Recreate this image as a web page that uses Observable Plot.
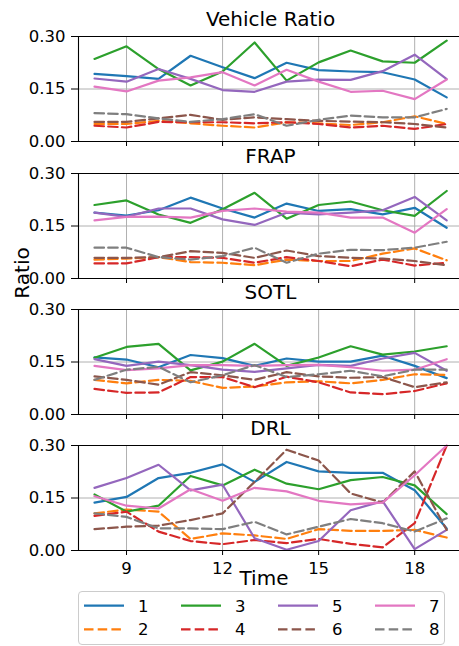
<!DOCTYPE html>
<html><head><meta charset="utf-8">
<script src="https://cdn.jsdelivr.net/npm/d3@7"></script>
<script src="https://cdn.jsdelivr.net/npm/@observablehq/plot@0.6"></script>
<style>
body{margin:0;overflow:hidden;background:#fff;font-family:"DejaVu Sans",sans-serif;}
#wrap{position:relative;width:459px;height:646px;overflow:hidden;}
</style>
</head><body><div id="wrap"></div>
<script>
const times = [8, 9, 10, 11, 12, 13, 14, 15, 16, 17, 18, 19];
const seriesLabels = ["1", "2", "3", "4", "5", "6", "7", "8"];
const seriesColors = ["#1f77b4", "#ff7f0e", "#2ca02c", "#d62728", "#9467bd", "#8c564b", "#e377c2", "#7f7f7f"];
const seriesDashed = [false, true, false, true, false, true, false, true];
const panelTitles = ["Vehicle Ratio", "FRAP", "SOTL", "DRL"];
const xTicks = [9, 12, 15, 18];
const yTicks = [0, 0.15, 0.30];

const vehicleRatio = [
  [.193, .187, .179, .245, .212, .181, .225, .204, .200, .198, .177, .126],
  [.050, .050, .059, .052, .045, .040, .055, .052, .047, .055, .072, .050],
  [.236, .272, .207, .160, .200, .283, .174, .226, .260, .229, .225, .288],
  [.045, .040, .056, .055, .055, .052, .055, .050, .040, .045, .036, .050],
  [.180, .171, .207, .179, .147, .142, .171, .177, .176, .201, .248, .178],
  [.056, .056, .066, .076, .062, .069, .064, .059, .057, .055, .050, .040],
  [.157, .143, .174, .183, .198, .160, .205, .171, .142, .145, .121, .177],
  [.081, .078, .066, .056, .064, .078, .045, .062, .074, .069, .069, .093]
];
const frap = [
  [.188, .180, .195, .231, .200, .174, .214, .193, .198, .183, .202, .145],
  [.054, .057, .061, .047, .045, .038, .054, .050, .050, .071, .086, .052],
  [.210, .223, .183, .159, .198, .245, .171, .210, .220, .195, .179, .250],
  [.043, .043, .061, .061, .059, .045, .061, .050, .035, .054, .037, .045],
  [.188, .176, .200, .200, .169, .153, .188, .183, .188, .195, .233, .166],
  [.059, .059, .061, .078, .073, .059, .080, .064, .059, .057, .050, .038],
  [.166, .176, .177, .174, .193, .200, .191, .188, .174, .174, .131, .198],
  [.088, .088, .061, .054, .064, .088, .045, .071, .082, .081, .088, .105]
];
const sotl = [
  [.163, .157, .135, .170, .161, .139, .160, .151, .151, .168, .139, .104],
  [.099, .089, .099, .096, .076, .080, .092, .095, .089, .099, .115, .113],
  [.162, .193, .202, .126, .151, .202, .139, .163, .195, .171, .180, .195],
  [.073, .062, .063, .107, .107, .078, .108, .092, .063, .058, .067, .089],
  [.158, .139, .151, .141, .128, .122, .132, .142, .139, .160, .176, .125],
  [.109, .099, .085, .121, .112, .099, .121, .109, .105, .107, .078, .092],
  [.139, .127, .132, .141, .141, .139, .141, .142, .135, .125, .128, .158],
  [.099, .128, .136, .092, .112, .141, .107, .115, .125, .109, .128, .128]
];
const drl = [
  [.137, .153, .207, .222, .246, .196, .253, .226, .222, .222, .172, .063],
  [.106, .117, .111, .033, .049, .043, .033, .061, .056, .056, .059, .037],
  [.160, .111, .128, .213, .186, .231, .191, .175, .201, .210, .186, .104],
  [.099, .111, .054, .027, .018, .030, .021, .033, .019, .009, .078, .300],
  [.179, .207, .245, .172, .188, .035, .002, .027, .115, .141, .004, .059],
  [.061, .068, .071, .087, .106, .196, .288, .257, .163, .137, .226, .059],
  [.155, .128, .120, .175, .142, .179, .169, .142, .132, .137, .215, .300],
  [.106, .096, .063, .063, .061, .082, .046, .068, .090, .078, .054, .092]
];

const panels = [vehicleRatio, frap, sotl, drl];
const wrap = document.getElementById("wrap");
const frameTops = [36, 172.7, 309, 445];
const FONT = "DejaVu Sans";
const gridStyle = {stroke: "#b0b0b0", strokeOpacity: 1, strokeWidth: 1};

panels.forEach((vals, p) => {
  const last = p === panels.length - 1;
  const rows = [];
  vals.forEach((arr, s) => arr.forEach((v, i) => rows.push({t: times[i], v, s: seriesLabels[s]})));
  const svg = Plot.plot({
    width: 459,
    height: 36 + 105 + (last ? 45 : 8),
    marginTop: 36,
    marginBottom: last ? 45 : 8,
    marginLeft: 78,
    marginRight: 0,
    style: {background: "transparent", fontFamily: FONT, color: "black", overflow: "visible"},
    x: {domain: [7.5, 19.4]},
    y: {domain: [0, 0.30]},
    marks: [
      Plot.gridX(xTicks, gridStyle),
      Plot.gridY([0.15], gridStyle),
      Plot.axisY(yTicks, {tickFormat: d3.format(".2f"), tickSize: 7, tickPadding: 6, fontSize: 16.5, label: null}),
      Plot.axisX(xTicks, {tickSize: 5, tickPadding: 7, fontSize: 16.5, label: null,
        tickFormat: last ? (d => String(d)) : (() => "")}),
      ...seriesLabels.map((name, s) => Plot.line(rows.filter(r => r.s === name), {
        x: "t", y: "v", stroke: seriesColors[s], strokeWidth: 2.2,
        strokeDasharray: seriesDashed[s] ? "9.5,4.2" : undefined
      })),
      Plot.ruleX([7.5], {stroke: "black", strokeWidth: 1.1}),
      Plot.ruleY([0, 0.30], {stroke: "black", strokeWidth: 1.1}),
      Plot.text([panelTitles[p]], {text: d => d, frameAnchor: "top", dy: -10.5, dx: 1.5, lineAnchor: "bottom", fontSize: 20})
    ]
  });
  svg.style.position = "absolute";
  svg.style.left = "0px";
  svg.style.top = (frameTops[p] - 36) + "px";
  wrap.appendChild(svg);
});

// overlay: shared axis labels and legend
const ov = d3.create("svg").attr("width", 459).attr("height", 646)
  .style("position", "absolute").style("left", "0px").style("top", "0px")
  .style("font-family", FONT);
ov.append("text").attr("transform", "translate(28.5,273) rotate(-90)")
  .attr("text-anchor", "middle").attr("font-size", 20).text("Ratio");
ov.append("text").attr("x", 264).attr("y", 585)
  .attr("text-anchor", "middle").attr("font-size", 20).text("Time");
ov.append("rect").attr("x", 78.5).attr("y", 591.5).attr("width", 366).attr("height", 53)
  .attr("rx", 3.5).attr("fill", "white").attr("fill-opacity", 0.8).attr("stroke", "#cccccc");
seriesLabels.forEach((name, i) => {
  const col = Math.floor(i / 2), row = i % 2;
  const x0 = 84 + col * 97, y = row ? 629.3 : 605.7;
  ov.append("line").attr("x1", x0).attr("x2", x0 + 40).attr("y1", y).attr("y2", y)
    .attr("stroke", seriesColors[i]).attr("stroke-width", 2.2)
    .attr("stroke-dasharray", seriesDashed[i] ? "9.5,4.2" : null);
  ov.append("text").attr("x", x0 + 54).attr("y", y).attr("dy", "0.36em")
    .attr("font-size", 16.5).text(name);
});
wrap.appendChild(ov.node());
</script>
</body></html>
